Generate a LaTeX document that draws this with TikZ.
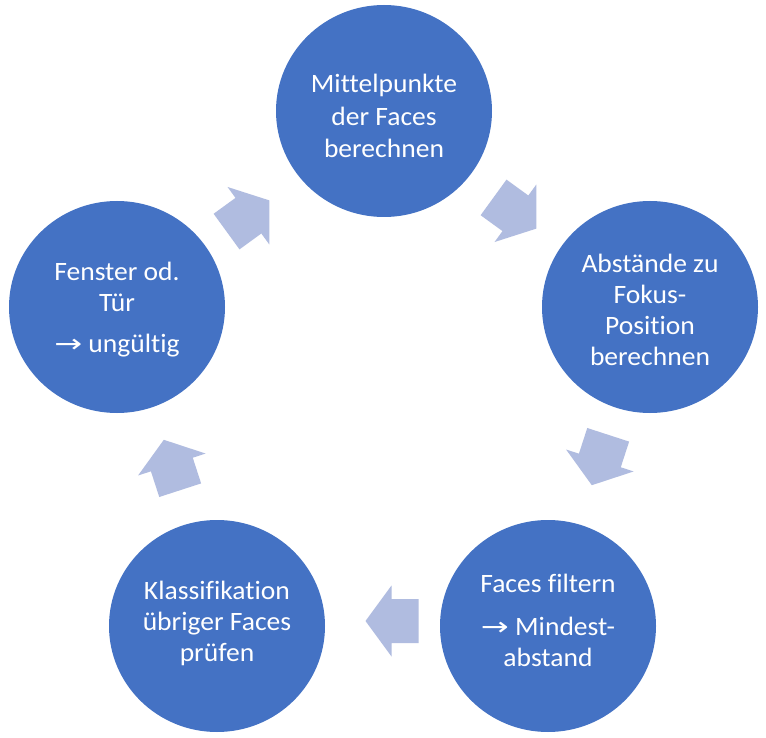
\documentclass[tikz,border=0pt]{standalone}
\usepackage{fontspec}
\setmainfont{Carlito}[FakeStretch=1.04,Ligatures=NoCommon]
\newfontfamily\arrfont{DejaVu Sans}
\usetikzlibrary{shapes.geometric}
\definecolor{circblue}{HTML}{4472C4}
\definecolor{arrfill}{RGB}{176,188,224}
\newcommand{\bigarr}{\scalebox{1.45}[1.1]{\arrfont\fontsize{23}{31}\selectfont →}}
\begin{document}
\begin{tikzpicture}[x=1pt,y=-1pt,
  stage/.style={ellipse, fill=circblue, draw=none, minimum width=216pt, minimum height=212pt, inner sep=0pt},
  stagetext/.style={text=white, align=center, inner sep=0pt, font=\fontsize{26.5}{31}\selectfont},
  blockarr/.pic={\fill[arrfill] (-26.5,-22) -- (0.5,-22) -- (0.5,-35.5) -- (26.5,0) -- (0.5,35.5) -- (0.5,22) -- (-26.5,22) -- cycle;}
]
\fill[white] (0,0) rectangle (766,738);
\useasboundingbox (0,0) rectangle (766,738);

\node[stage] (c1) at (384,111) {};
\node[stage] (c2) at (650,307) {};
\node[stage] (c3) at (548,626) {};
\node[stage] (c4) at (217,626) {};
\node[stage] (c5) at (117,307) {};

\node[stagetext, font=\fontsize{26.5}{32.5}\selectfont] (t1) at ([yshift=-5pt]c1.center) {Mittelpunkte\\der Faces\\berechnen};
\node[stagetext] (t2) at ([yshift=-3pt]c2.center) {Abstände zu\\Fokus-\\Position\\berechnen};
\node[stagetext] (t3) at ([yshift=6pt]c3.center) {Faces filtern\\[12pt]\bigarr{} Mindest-\\abstand};
\node[stagetext] (t4) at ([yshift=3pt]c4.center) {Klassifikation\\übriger Faces\\prüfen};
\node[stagetext] (t5) at ([yshift=-3pt]c5.center) {Fenster od.\\Tür\\[10pt]\bigarr{} ungültig};

\pic[rotate=36] (a1) at (248,216) {blockarr};
\pic[rotate=-36] (a2) at (515,213) {blockarr};
\pic[rotate=252] (a3) at (600,460) {blockarr};
\pic[rotate=180] (a4) at (392,621) {blockarr};
\pic[rotate=108] (a5) at (172,465) {blockarr};
\end{tikzpicture}
\end{document}
